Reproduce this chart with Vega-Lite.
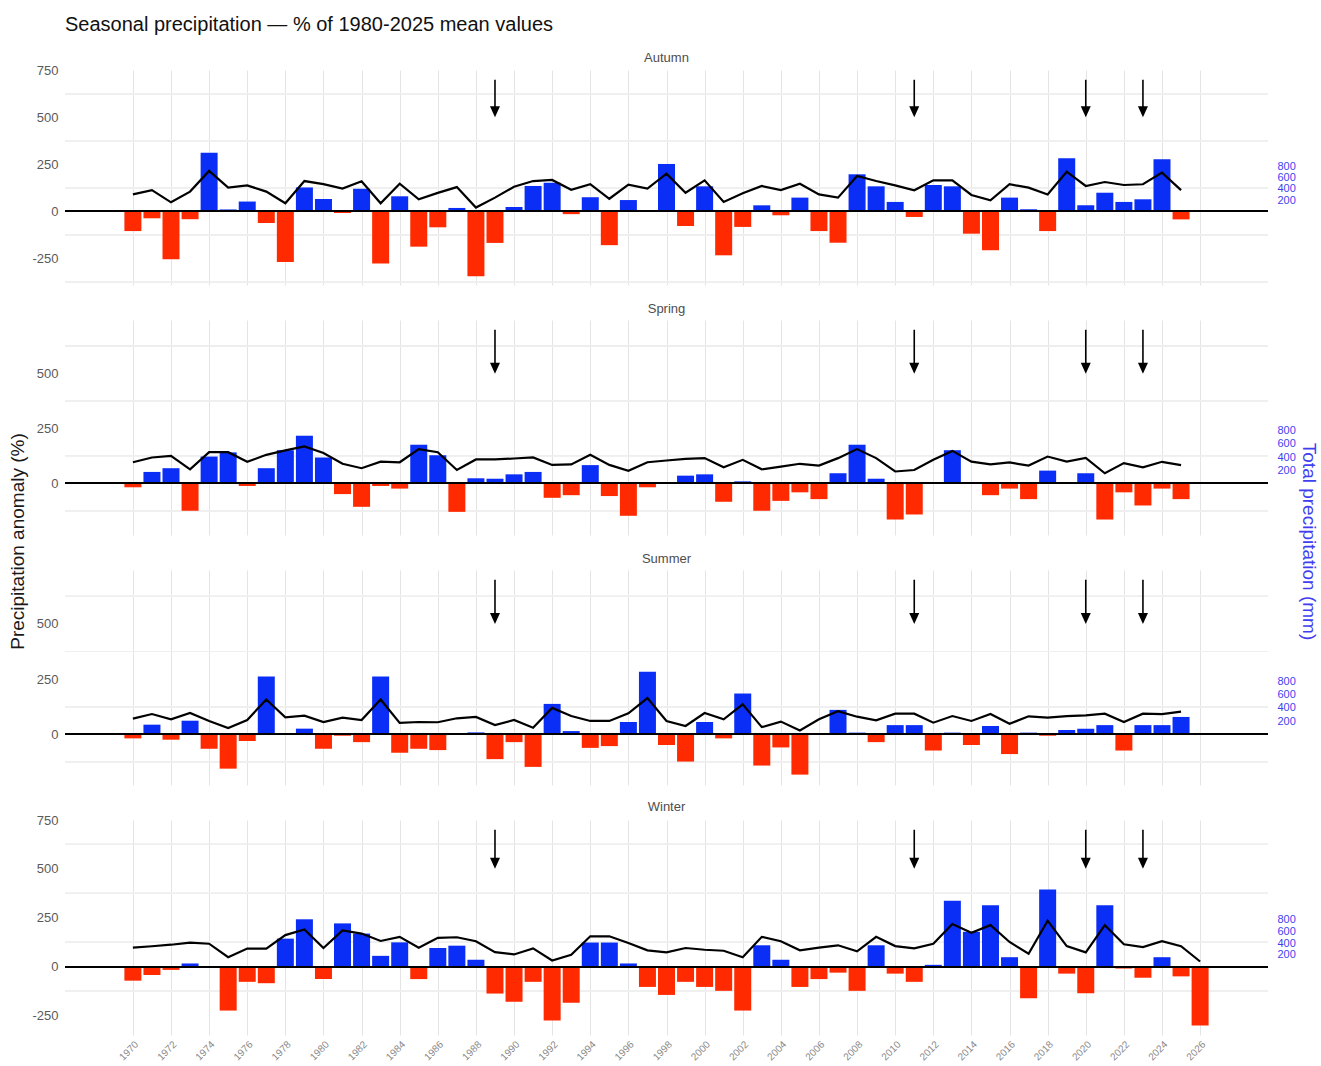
{
  "$schema": "https://vega.github.io/schema/vega-lite/v6.json",
  "background": "white",
  "padding": {"left": 8, "top": 15, "right": 2, "bottom": 2},
  "title": {"text": "Seasonal precipitation — % of 1980-2025 mean values", "anchor": "start", "fontSize": 20, "fontWeight": "normal", "color": "#111111", "offset": 17, "frame": "group"},
  "bounds": "flush",
  "spacing": 35,
  "config": {
    "font": "Liberation Sans",
    "view": {"stroke": null},
    "axis": {"labelFont": "Liberation Sans", "titleFont": "Liberation Sans"},
    "title": {"font": "Liberation Sans"}
  },
  "datasets": {
    "arrows": [{"year": 1989}, {"year": 2011}, {"year": 2020}, {"year": 2023}],
    "autumn": [
      {"year":1970,"anom":-105,"total":300},{"year":1971,"anom":-37,"total":377},{"year":1972,"anom":-255,"total":160},{"year":1973,"anom":-42,"total":350},
      {"year":1974,"anom":312,"total":717},{"year":1975,"anom":10,"total":420},{"year":1976,"anom":52,"total":460},{"year":1977,"anom":-62,"total":350},
      {"year":1978,"anom":-270,"total":143},{"year":1979,"anom":127,"total":537},{"year":1980,"anom":66,"total":483},{"year":1981,"anom":-9,"total":403},
      {"year":1982,"anom":120,"total":533},{"year":1983,"anom":-277,"total":143},{"year":1984,"anom":80,"total":490},{"year":1985,"anom":-188,"total":213},
      {"year":1986,"anom":-85,"total":327},{"year":1987,"anom":18,"total":430},{"year":1988,"anom":-345,"total":67},{"year":1989,"anom":-168,"total":243},
      {"year":1990,"anom":23,"total":437},{"year":1991,"anom":135,"total":537},{"year":1992,"anom":152,"total":557},{"year":1993,"anom":-15,"total":383},
      {"year":1994,"anom":75,"total":483},{"year":1995,"anom":-180,"total":223},{"year":1996,"anom":60,"total":473},{"year":1997,"anom":0,"total":403},
      {"year":1998,"anom":252,"total":667},{"year":1999,"anom":-78,"total":330},{"year":2000,"anom":133,"total":550},{"year":2001,"anom":-234,"total":167},
      {"year":2002,"anom":-83,"total":320},{"year":2003,"anom":32,"total":450},{"year":2004,"anom":-21,"total":377},{"year":2005,"anom":73,"total":490},
      {"year":2006,"anom":-105,"total":300},{"year":2007,"anom":-167,"total":243},{"year":2008,"anom":197,"total":627},{"year":2009,"anom":133,"total":537},
      {"year":2010,"anom":50,"total":460},{"year":2011,"anom":-30,"total":373},{"year":2012,"anom":140,"total":550},{"year":2013,"anom":133,"total":550},
      {"year":2014,"anom":-119,"total":290},{"year":2015,"anom":-207,"total":197},{"year":2016,"anom":73,"total":480},{"year":2017,"anom":11,"total":420},
      {"year":2018,"anom":-105,"total":300},{"year":2019,"anom":282,"total":703},{"year":2020,"anom":32,"total":450},{"year":2021,"anom":99,"total":520},
      {"year":2022,"anom":50,"total":467},{"year":2023,"anom":64,"total":480},{"year":2024,"anom":277,"total":687},{"year":2025,"anom":-43,"total":377}
    ],
    "spring": [
      {"year":1970,"anom":-18,"total":320},{"year":1971,"anom":52,"total":393},{"year":1972,"anom":69,"total":417},{"year":1973,"anom":-125,"total":213},
      {"year":1974,"anom":122,"total":473},{"year":1975,"anom":141,"total":473},{"year":1976,"anom":-12,"total":327},{"year":1977,"anom":69,"total":433},
      {"year":1978,"anom":151,"total":500},{"year":1979,"anom":217,"total":560},{"year":1980,"anom":118,"total":460},{"year":1981,"anom":-49,"total":297},
      {"year":1982,"anom":-107,"total":230},{"year":1983,"anom":-12,"total":330},{"year":1984,"anom":-24,"total":320},{"year":1985,"anom":176,"total":520},
      {"year":1986,"anom":128,"total":473},{"year":1987,"anom":-130,"total":203},{"year":1988,"anom":23,"total":363},{"year":1989,"anom":21,"total":363},
      {"year":1990,"anom":41,"total":377},{"year":1991,"anom":52,"total":393},{"year":1992,"anom":-66,"total":280},{"year":1993,"anom":-54,"total":287},
      {"year":1994,"anom":83,"total":433},{"year":1995,"anom":-58,"total":280},{"year":1996,"anom":-148,"total":190},{"year":1997,"anom":-18,"total":320},
      {"year":1998,"anom":0,"total":347},{"year":1999,"anom":35,"total":373},{"year":2000,"anom":41,"total":383},{"year":2001,"anom":-84,"total":243},
      {"year":2002,"anom":9,"total":357},{"year":2003,"anom":-125,"total":213},{"year":2004,"anom":-80,"total":253},{"year":2005,"anom":-41,"total":297},
      {"year":2006,"anom":-72,"total":270},{"year":2007,"anom":46,"total":383},{"year":2008,"anom":176,"total":520},{"year":2009,"anom":21,"total":383},
      {"year":2010,"anom":-165,"total":180},{"year":2011,"anom":-142,"total":203},{"year":2012,"anom":0,"total":357},{"year":2013,"anom":151,"total":493},
      {"year":2014,"anom":0,"total":330},{"year":2015,"anom":-54,"total":287},{"year":2016,"anom":-24,"total":317},{"year":2017,"anom":-72,"total":270},
      {"year":2018,"anom":58,"total":407},{"year":2019,"anom":0,"total":330},{"year":2020,"anom":46,"total":387},{"year":2021,"anom":-165,"total":153},
      {"year":2022,"anom":-41,"total":307},{"year":2023,"anom":-101,"total":243},{"year":2024,"anom":-24,"total":327},{"year":2025,"anom":-72,"total":277}
    ],
    "summer": [
      {"year":1970,"anom":-18,"total":237},{"year":1971,"anom":44,"total":307},{"year":1972,"anom":-24,"total":227},{"year":1973,"anom":62,"total":323},
      {"year":1974,"anom":-65,"total":203},{"year":1975,"anom":-155,"total":97},{"year":1976,"anom":-30,"total":217},{"year":1977,"anom":262,"total":527},
      {"year":1978,"anom":0,"total":257},{"year":1979,"anom":26,"total":283},{"year":1980,"anom":-65,"total":187},{"year":1981,"anom":-6,"total":253},
      {"year":1982,"anom":-35,"total":217},{"year":1983,"anom":262,"total":527},{"year":1984,"anom":-83,"total":173},{"year":1985,"anom":-65,"total":187},
      {"year":1986,"anom":-71,"total":183},{"year":1987,"anom":0,"total":243},{"year":1988,"anom":9,"total":263},{"year":1989,"anom":-112,"total":140},
      {"year":1990,"anom":-35,"total":217},{"year":1991,"anom":-147,"total":100},{"year":1992,"anom":138,"total":400},{"year":1993,"anom":15,"total":277},
      {"year":1994,"anom":-61,"total":203},{"year":1995,"anom":-53,"total":203},{"year":1996,"anom":56,"total":317},{"year":1997,"anom":283,"total":547},
      {"year":1998,"anom":-48,"total":203},{"year":1999,"anom":-123,"total":127},{"year":2000,"anom":56,"total":323},{"year":2001,"anom":-18,"total":227},
      {"year":2002,"anom":185,"total":453},{"year":2003,"anom":-141,"total":110},{"year":2004,"anom":-59,"total":193},{"year":2005,"anom":-182,"total":60},
      {"year":2006,"anom":0,"total":227},{"year":2007,"anom":111,"total":350},{"year":2008,"anom":8,"total":267},{"year":2009,"anom":-35,"total":213},
      {"year":2010,"anom":42,"total":313},{"year":2011,"anom":42,"total":313},{"year":2012,"anom":-73,"total":177},{"year":2013,"anom":8,"total":277},
      {"year":2014,"anom":-48,"total":203},{"year":2015,"anom":38,"total":307},{"year":2016,"anom":-89,"total":160},{"year":2017,"anom":8,"total":273},
      {"year":2018,"anom":-6,"total":253},{"year":2019,"anom":20,"total":277},{"year":2020,"anom":26,"total":287},{"year":2021,"anom":42,"total":313},
      {"year":2022,"anom":-73,"total":187},{"year":2023,"anom":42,"total":313},{"year":2024,"anom":42,"total":307},{"year":2025,"anom":79,"total":343}
    ],
    "winter": [
      {"year":1970,"anom":-72,"total":323},{"year":1971,"anom":-43,"total":347},{"year":1972,"anom":-17,"total":373},{"year":1973,"anom":16,"total":410},
      {"year":1974,"anom":0,"total":390},{"year":1975,"anom":-225,"total":160},{"year":1976,"anom":-78,"total":307},{"year":1977,"anom":-85,"total":307},
      {"year":1978,"anom":143,"total":537},{"year":1979,"anom":242,"total":633},{"year":1980,"anom":-64,"total":317},{"year":1981,"anom":221,"total":617},
      {"year":1982,"anom":169,"total":563},{"year":1983,"anom":55,"total":437},{"year":1984,"anom":124,"total":507},{"year":1985,"anom":-64,"total":323},
      {"year":1986,"anom":95,"total":490},{"year":1987,"anom":107,"total":500},{"year":1988,"anom":35,"total":433},{"year":1989,"anom":-138,"total":247},
      {"year":1990,"anom":-180,"total":207},{"year":1991,"anom":-78,"total":310},{"year":1992,"anom":-276,"total":103},{"year":1993,"anom":-185,"total":200},
      {"year":1994,"anom":123,"total":517},{"year":1995,"anom":123,"total":517},{"year":1996,"anom":16,"total":403},{"year":1997,"anom":-104,"total":277},
      {"year":1998,"anom":-145,"total":243},{"year":1999,"anom":-78,"total":317},{"year":2000,"anom":-104,"total":287},{"year":2001,"anom":-124,"total":270},
      {"year":2002,"anom":-225,"total":160},{"year":2003,"anom":109,"total":507},{"year":2004,"anom":35,"total":433},{"year":2005,"anom":-104,"total":277},
      {"year":2006,"anom":-64,"total":323},{"year":2007,"anom":-31,"total":363},{"year":2008,"anom":-124,"total":260},{"year":2009,"anom":109,"total":507},
      {"year":2010,"anom":-36,"total":350},{"year":2011,"anom":-78,"total":310},{"year":2012,"anom":9,"total":390},{"year":2013,"anom":337,"total":727},
      {"year":2014,"anom":178,"total":577},{"year":2015,"anom":314,"total":707},{"year":2016,"anom":48,"total":420},{"year":2017,"anom":-162,"total":220},
      {"year":2018,"anom":395,"total":783},{"year":2019,"anom":-36,"total":350},{"year":2020,"anom":-136,"total":243},{"year":2021,"anom":314,"total":707},
      {"year":2022,"anom":-10,"total":380},{"year":2023,"anom":-57,"total":333},{"year":2024,"anom":48,"total":433},{"year":2025,"anom":-50,"total":347},
      {"year":2026,"anom":-302,"total":87}
    ]
  },
  "vconcat": [
    {
      "width": 1203, "height": 215,
      "title": {"text": "Autumn", "fontSize": 13, "fontWeight": "normal", "color": "#4d4d4d", "offset": -1, "anchor": "middle"},
      "data": {"name": "autumn"},
      "resolve": {"scale": {"y": "independent"}},
      "layer": [
        {
          "layer": [
            {"mark": {"type": "rule", "color": "#efefef", "strokeWidth": 1}, "encoding": {"y": {"datum": -375}}},
            {"mark": {"type": "rule", "color": "#efefef", "strokeWidth": 1}, "encoding": {"y": {"datum": -125}}},
            {"mark": {"type": "rule", "color": "#efefef", "strokeWidth": 1}, "encoding": {"y": {"datum": 125}}},
            {"mark": {"type": "rule", "color": "#efefef", "strokeWidth": 1}, "encoding": {"y": {"datum": 375}}},
            {"mark": {"type": "rule", "color": "#efefef", "strokeWidth": 1}, "encoding": {"y": {"datum": 625}}},
            {
              "mark": {"type": "bar", "size": 17, "orient": "vertical"},
              "encoding": {
                "x": {"field": "year", "type": "quantitative", "scale": {"domain": [1966.7, 2029.3], "nice": false, "zero": false},
                      "axis": {"values": [1970,1972,1974,1976,1978,1980,1982,1984,1986,1988,1990,1992,1994,1996,1998,2000,2002,2004,2006,2008,2010,2012,2014,2016,2018,2020,2022,2024,2026], "grid": true, "gridColor": "#e4e4e4", "ticks": false, "domain": false, "labels": false, "title": null}},
                "y": {"field": "anom", "type": "quantitative", "scale": {"domain": [-392, 752], "nice": false, "zero": false},
                      "axis": {"values": [-250, 0, 250, 500, 750], "labelExpr": "'' + datum.value", "labelOverlap": false, "grid": false, "ticks": false, "domain": false, "labelFontSize": 13, "labelColor": "#5a5a5a", "labelPadding": 7, "title": null}},
                "color": {"condition": {"test": "datum.anom >= 0", "value": "#0a2ef5"}, "value": "#ff2a00"}
              }
            },
            {"mark": {"type": "rule", "color": "black", "strokeWidth": 1.2}, "encoding": {"y": {"datum": 0}}},
            {"data": {"name": "arrows"}, "mark": {"type": "rule", "color": "black", "strokeWidth": 1.6},
             "encoding": {"x": {"field": "year", "type": "quantitative", "scale": {"domain": [1966.7, 2029.3], "nice": false, "zero": false}}, "y": {"datum": 700}, "y2": {"datum": 525}}},
            {"data": {"name": "arrows"}, "mark": {"type": "point", "shape": "M-1,-2.2L1,-2.2L0,0Z", "size": 100, "filled": true, "color": "black", "opacity": 1},
             "encoding": {"x": {"field": "year", "type": "quantitative", "scale": {"domain": [1966.7, 2029.3], "nice": false, "zero": false}}, "y": {"datum": 500}}}
          ]
        },
        {
          "mark": {"type": "line", "color": "black", "strokeWidth": 2.2},
          "encoding": {
            "x": {"field": "year", "type": "quantitative", "scale": {"domain": [1966.7, 2029.3], "nice": false, "zero": false}},
            "y": {"field": "total", "type": "quantitative", "scale": {"domain": [-1306.7, 2506.7], "nice": false, "zero": false},
                  "axis": {"orient": "right", "values": [200, 400, 600, 800], "labelOverlap": false, "labelColor": "#3f3ff0", "labelFontSize": 11, "labelPadding": 9, "grid": false, "ticks": false, "domain": false, "title": null}}
          }
        }
      ]
    },
    {
      "width": 1203, "height": 215,
      "title": {"text": "Spring", "fontSize": 13, "fontWeight": "normal", "color": "#4d4d4d", "offset": 4, "anchor": "middle"},
      "data": {"name": "spring"},
      "resolve": {"scale": {"y": "independent"}},
      "layer": [
        {
          "layer": [
            {"mark": {"type": "rule", "color": "#efefef", "strokeWidth": 1}, "encoding": {"y": {"datum": -125}}},
            {"mark": {"type": "rule", "color": "#efefef", "strokeWidth": 1}, "encoding": {"y": {"datum": 125}}},
            {"mark": {"type": "rule", "color": "#efefef", "strokeWidth": 1}, "encoding": {"y": {"datum": 375}}},
            {"mark": {"type": "rule", "color": "#efefef", "strokeWidth": 1}, "encoding": {"y": {"datum": 625}}},
            {
              "mark": {"type": "bar", "size": 17, "orient": "vertical"},
              "encoding": {
                "x": {"field": "year", "type": "quantitative", "scale": {"domain": [1966.7, 2029.3], "nice": false, "zero": false},
                      "axis": {"values": [1970,1972,1974,1976,1978,1980,1982,1984,1986,1988,1990,1992,1994,1996,1998,2000,2002,2004,2006,2008,2010,2012,2014,2016,2018,2020,2022,2024,2026], "grid": true, "gridColor": "#e4e4e4", "ticks": false, "domain": false, "labels": false, "title": null}},
                "y": {"field": "anom", "type": "quantitative", "scale": {"domain": [-235.5, 744.5], "nice": false, "zero": false},
                      "axis": {"values": [0, 250, 500], "labelExpr": "'' + datum.value", "labelOverlap": false, "grid": false, "ticks": false, "domain": false, "labelFontSize": 13, "labelColor": "#5a5a5a", "labelPadding": 7,
                               "title": "Precipitation anomaly (%)", "titleFontSize": 19, "titleFontWeight": "normal", "titleColor": "#1a1a1a", "titlePadding": 9, "titleY": 221}},
                "color": {"condition": {"test": "datum.anom >= 0", "value": "#0a2ef5"}, "value": "#ff2a00"}
              }
            },
            {"mark": {"type": "rule", "color": "black", "strokeWidth": 1.2}, "encoding": {"y": {"datum": 0}}},
            {"data": {"name": "arrows"}, "mark": {"type": "rule", "color": "black", "strokeWidth": 1.6},
             "encoding": {"x": {"field": "year", "type": "quantitative", "scale": {"domain": [1966.7, 2029.3], "nice": false, "zero": false}}, "y": {"datum": 700}, "y2": {"datum": 525}}},
            {"data": {"name": "arrows"}, "mark": {"type": "point", "shape": "M-1,-2.2L1,-2.2L0,0Z", "size": 100, "filled": true, "color": "black", "opacity": 1},
             "encoding": {"x": {"field": "year", "type": "quantitative", "scale": {"domain": [1966.7, 2029.3], "nice": false, "zero": false}}, "y": {"datum": 500}}}
          ]
        },
        {
          "mark": {"type": "line", "color": "black", "strokeWidth": 2.2},
          "encoding": {
            "x": {"field": "year", "type": "quantitative", "scale": {"domain": [1966.7, 2029.3], "nice": false, "zero": false}},
            "y": {"field": "total", "type": "quantitative", "scale": {"domain": [-785, 2481.7], "nice": false, "zero": false},
                  "axis": {"orient": "right", "values": [200, 400, 600, 800], "labelOverlap": false, "labelColor": "#3f3ff0", "labelFontSize": 11, "labelPadding": 9, "grid": false, "ticks": false, "domain": false,
                           "title": "Total precipitation (mm)", "titleFontSize": 19, "titleFontWeight": "normal", "titleColor": "#3f3ff0", "titlePadding": 3, "titleY": 221}}
          }
        }
      ]
    },
    {
      "width": 1203, "height": 215,
      "title": {"text": "Summer", "fontSize": 13, "fontWeight": "normal", "color": "#4d4d4d", "offset": 4, "anchor": "middle"},
      "data": {"name": "summer"},
      "resolve": {"scale": {"y": "independent"}},
      "layer": [
        {
          "layer": [
            {"mark": {"type": "rule", "color": "#efefef", "strokeWidth": 1}, "encoding": {"y": {"datum": -125}}},
            {"mark": {"type": "rule", "color": "#efefef", "strokeWidth": 1}, "encoding": {"y": {"datum": 125}}},
            {"mark": {"type": "rule", "color": "#efefef", "strokeWidth": 1}, "encoding": {"y": {"datum": 375}}},
            {"mark": {"type": "rule", "color": "#efefef", "strokeWidth": 1}, "encoding": {"y": {"datum": 625}}},
            {
              "mark": {"type": "bar", "size": 17, "orient": "vertical"},
              "encoding": {
                "x": {"field": "year", "type": "quantitative", "scale": {"domain": [1966.7, 2029.3], "nice": false, "zero": false},
                      "axis": {"values": [1970,1972,1974,1976,1978,1980,1982,1984,1986,1988,1990,1992,1994,1996,1998,2000,2002,2004,2006,2008,2010,2012,2014,2016,2018,2020,2022,2024,2026], "grid": true, "gridColor": "#e4e4e4", "ticks": false, "domain": false, "labels": false, "title": null}},
                "y": {"field": "anom", "type": "quantitative", "scale": {"domain": [-229, 744], "nice": false, "zero": false},
                      "axis": {"values": [0, 250, 500], "labelExpr": "'' + datum.value", "labelOverlap": false, "grid": false, "ticks": false, "domain": false, "labelFontSize": 13, "labelColor": "#5a5a5a", "labelPadding": 7, "title": null}},
                "color": {"condition": {"test": "datum.anom >= 0", "value": "#0a2ef5"}, "value": "#ff2a00"}
              }
            },
            {"mark": {"type": "rule", "color": "black", "strokeWidth": 1.2}, "encoding": {"y": {"datum": 0}}},
            {"data": {"name": "arrows"}, "mark": {"type": "rule", "color": "black", "strokeWidth": 1.6},
             "encoding": {"x": {"field": "year", "type": "quantitative", "scale": {"domain": [1966.7, 2029.3], "nice": false, "zero": false}}, "y": {"datum": 700}, "y2": {"datum": 525}}},
            {"data": {"name": "arrows"}, "mark": {"type": "point", "shape": "M-1,-2.2L1,-2.2L0,0Z", "size": 100, "filled": true, "color": "black", "opacity": 1},
             "encoding": {"x": {"field": "year", "type": "quantitative", "scale": {"domain": [1966.7, 2029.3], "nice": false, "zero": false}}, "y": {"datum": 500}}}
          ]
        },
        {
          "mark": {"type": "line", "color": "black", "strokeWidth": 2.2},
          "encoding": {
            "x": {"field": "year", "type": "quantitative", "scale": {"domain": [1966.7, 2029.3], "nice": false, "zero": false}},
            "y": {"field": "total", "type": "quantitative", "scale": {"domain": [-763.3, 2480], "nice": false, "zero": false},
                  "axis": {"orient": "right", "values": [200, 400, 600, 800], "labelOverlap": false, "labelColor": "#3f3ff0", "labelFontSize": 11, "labelPadding": 9, "grid": false, "ticks": false, "domain": false, "title": null}}
          }
        }
      ]
    },
    {
      "width": 1203, "height": 215,
      "title": {"text": "Winter", "fontSize": 13, "fontWeight": "normal", "color": "#4d4d4d", "offset": 0, "anchor": "middle"},
      "data": {"name": "winter"},
      "resolve": {"scale": {"y": "independent"}},
      "layer": [
        {
          "layer": [
            {"mark": {"type": "rule", "color": "#efefef", "strokeWidth": 1}, "encoding": {"y": {"datum": -125}}},
            {"mark": {"type": "rule", "color": "#efefef", "strokeWidth": 1}, "encoding": {"y": {"datum": 125}}},
            {"mark": {"type": "rule", "color": "#efefef", "strokeWidth": 1}, "encoding": {"y": {"datum": 375}}},
            {"mark": {"type": "rule", "color": "#efefef", "strokeWidth": 1}, "encoding": {"y": {"datum": 625}}},
            {
              "mark": {"type": "bar", "size": 17, "orient": "vertical"},
              "encoding": {
                "x": {"field": "year", "type": "quantitative", "scale": {"domain": [1966.7, 2029.3], "nice": false, "zero": false},
                      "axis": {"values": [1970,1972,1974,1976,1978,1980,1982,1984,1986,1988,1990,1992,1994,1996,1998,2000,2002,2004,2006,2008,2010,2012,2014,2016,2018,2020,2022,2024,2026], "grid": true, "gridColor": "#e4e4e4", "ticks": false, "domain": false, "labels": true, "labelExpr": "'' + datum.value", "labelOverlap": false, "labelAngle": -45, "labelFontSize": 10, "labelColor": "#8a8a8a", "labelPadding": 4, "title": null}},
                "y": {"field": "anom", "type": "quantitative", "scale": {"domain": [-350, 750], "nice": false, "zero": false},
                      "axis": {"values": [-250, 0, 250, 500, 750], "labelExpr": "'' + datum.value", "labelOverlap": false, "grid": false, "ticks": false, "domain": false, "labelFontSize": 13, "labelColor": "#5a5a5a", "labelPadding": 7, "title": null}},
                "color": {"condition": {"test": "datum.anom >= 0", "value": "#0a2ef5"}, "value": "#ff2a00"}
              }
            },
            {"mark": {"type": "rule", "color": "black", "strokeWidth": 1.2}, "encoding": {"y": {"datum": 0}}},
            {"data": {"name": "arrows"}, "mark": {"type": "rule", "color": "black", "strokeWidth": 1.6},
             "encoding": {"x": {"field": "year", "type": "quantitative", "scale": {"domain": [1966.7, 2029.3], "nice": false, "zero": false}}, "y": {"datum": 700}, "y2": {"datum": 525}}},
            {"data": {"name": "arrows"}, "mark": {"type": "point", "shape": "M-1,-2.2L1,-2.2L0,0Z", "size": 100, "filled": true, "color": "black", "opacity": 1},
             "encoding": {"x": {"field": "year", "type": "quantitative", "scale": {"domain": [1966.7, 2029.3], "nice": false, "zero": false}}, "y": {"datum": 500}}}
          ]
        },
        {
          "mark": {"type": "line", "color": "black", "strokeWidth": 2.2},
          "encoding": {
            "x": {"field": "year", "type": "quantitative", "scale": {"domain": [1966.7, 2029.3], "nice": false, "zero": false}},
            "y": {"field": "total", "type": "quantitative", "scale": {"domain": [-1166.7, 2500], "nice": false, "zero": false},
                  "axis": {"orient": "right", "values": [200, 400, 600, 800], "labelOverlap": false, "labelColor": "#3f3ff0", "labelFontSize": 11, "labelPadding": 9, "grid": false, "ticks": false, "domain": false, "title": null}}
          }
        }
      ]
    }
  ]
}
